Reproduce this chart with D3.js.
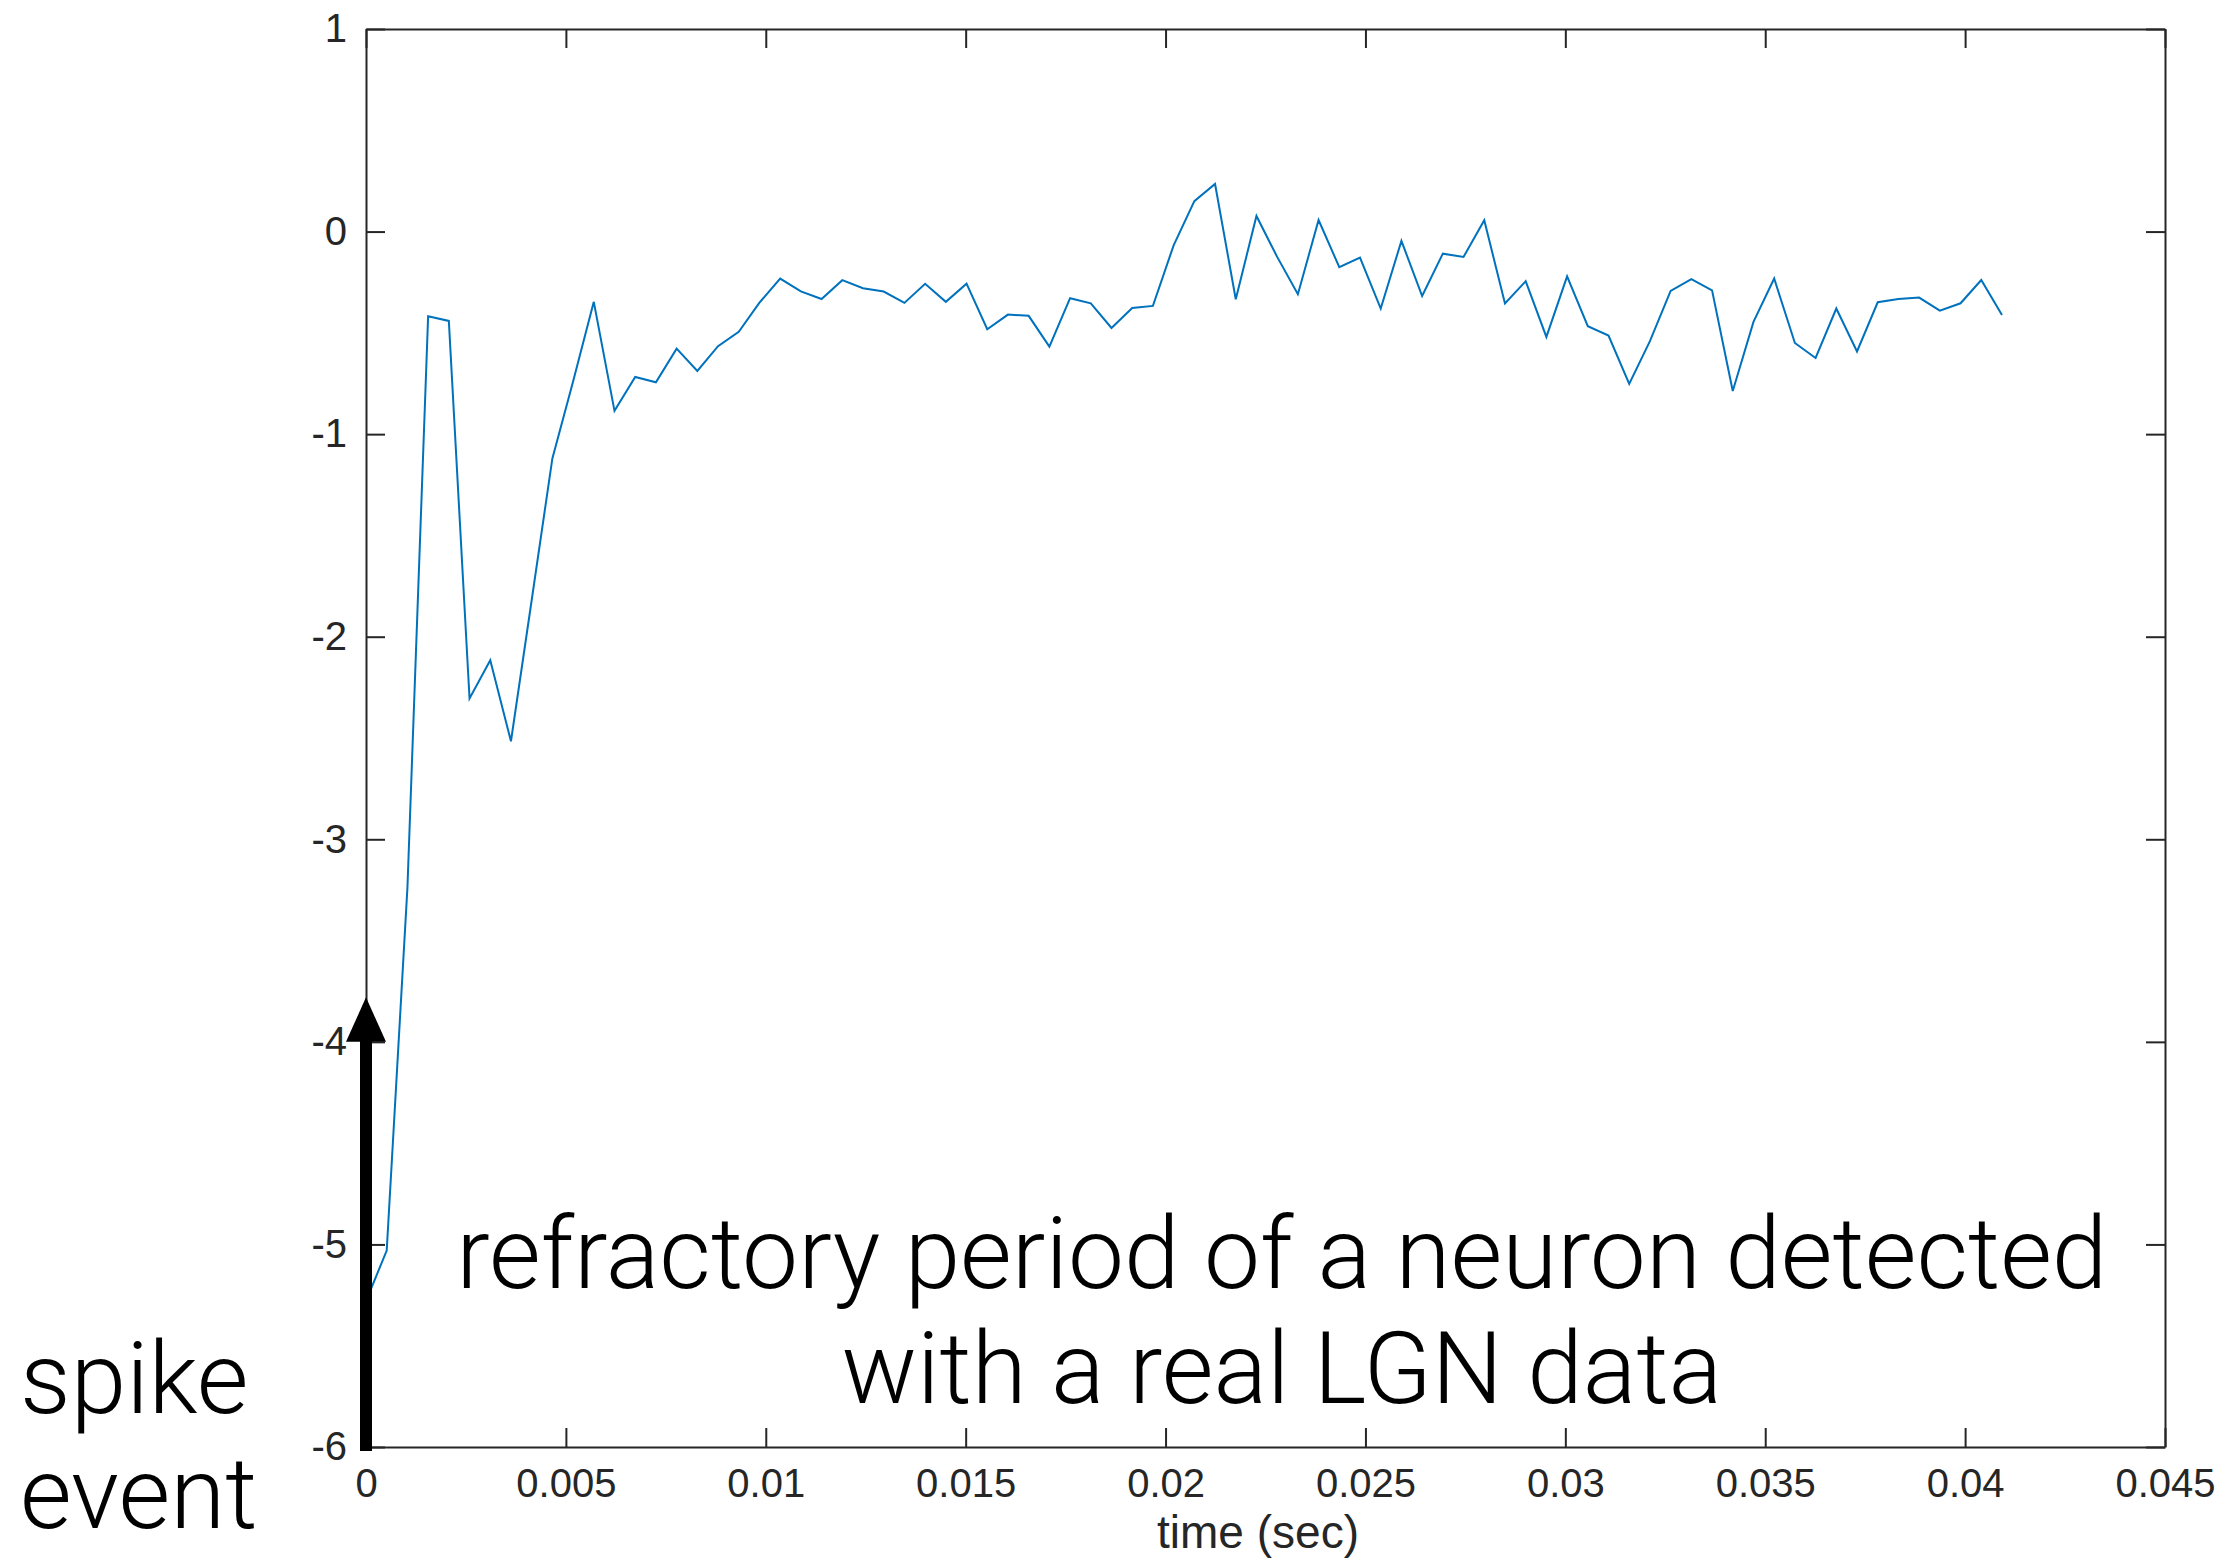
<!DOCTYPE html>
<html>
<head>
<meta charset="utf-8">
<script src="https://cdn.jsdelivr.net/npm/d3@7"></script>
<style>
  html, body { margin: 0; padding: 0; background: #ffffff; }
  svg { display: block; }
</style>
</head>
<body>
<div id="chart"></div>
<script>
// ---- data ----
const timeSec = [0, 0.000518, 0.001036, 0.001554, 0.002072, 0.00259, 0.003108, 0.003626, 0.004144, 0.004662,
  0.00518, 0.005698, 0.006216, 0.006734, 0.007252, 0.00777, 0.008288, 0.008806, 0.009324, 0.009842,
  0.01036, 0.010878, 0.011396, 0.011914, 0.012432, 0.01295, 0.013468, 0.013986, 0.014504, 0.015022,
  0.01554, 0.016058, 0.016576, 0.017094, 0.017612, 0.01813, 0.018648, 0.019166, 0.019684, 0.020202,
  0.02072, 0.021238, 0.021756, 0.022274, 0.022792, 0.02331, 0.023828, 0.024346, 0.024864, 0.025382,
  0.0259, 0.026418, 0.026936, 0.027454, 0.027972, 0.02849, 0.029008, 0.029526, 0.030044, 0.030562,
  0.03108, 0.031598, 0.032116, 0.032634, 0.033152, 0.03367, 0.034188, 0.034706, 0.035224, 0.035742,
  0.03626, 0.036778, 0.037296, 0.037814, 0.038332, 0.03885, 0.039368, 0.039886, 0.040404, 0.040922];

const response = [-5.28, -5.03, -3.24, -0.418, -0.441, -2.305, -2.116, -2.516, -1.82, -1.120,
  -0.74, -0.347, -0.885, -0.718, -0.744, -0.578, -0.688, -0.566, -0.495, -0.351,
  -0.232, -0.295, -0.333, -0.240, -0.280, -0.296, -0.352, -0.258, -0.347, -0.257,
  -0.482, -0.410, -0.416, -0.568, -0.329, -0.354, -0.476, -0.377, -0.367, -0.068,
  0.150, 0.235, -0.334, 0.077, -0.125, -0.309, 0.057, -0.176, -0.128, -0.380,
  -0.046, -0.318, -0.109, -0.125, 0.056, -0.355, -0.245, -0.520, -0.221, -0.467,
  -0.513, -0.752, -0.541, -0.293, -0.235, -0.290, -0.787, -0.446, -0.232, -0.550,
  -0.624, -0.380, -0.592, -0.349, -0.333, -0.326, -0.390, -0.354, -0.239, -0.412];

const xTicks = [0, 0.005, 0.01, 0.015, 0.02, 0.025, 0.03, 0.035, 0.04, 0.045];
const xTickLabels = ["0", "0.005", "0.01", "0.015", "0.02", "0.025", "0.03", "0.035", "0.04", "0.045"];
const yTicks = [-6, -5, -4, -3, -2, -1, 0, 1];
const yTickLabels = ["-6", "-5", "-4", "-3", "-2", "-1", "0", "1"];
const xDomain = [0, 0.045];
const yDomain = [-6, 1];
const xLabel = "time (sec)";
const noteLines = ["refractory period of a neuron detected", "with a real LGN data"];
const sideLines = ["spike", "event"];

// ---- layout ----
const W = 2233, H = 1560;
const plotL = 366, plotR = 2165, plotT = 29, plotB = 1447;
const axisColor = "#262626";

const svg = d3.select("#chart").append("svg")
  .attr("width", W).attr("height", H)
  .attr("viewBox", `0 0 ${W} ${H}`);

const x = d3.scaleLinear().domain(xDomain).range([plotL, plotR]);
const y = d3.scaleLinear().domain(yDomain).range([plotB, plotT]);

const tickLen = 19;
function styleAxis(g) {
  g.select(".domain").attr("stroke", axisColor).attr("stroke-width", 2);
  g.selectAll(".tick line").attr("stroke", axisColor).attr("stroke-width", 2);
  g.selectAll(".tick text").attr("fill", axisColor)
    .style("font-family", "'Liberation Sans', Arial, Helvetica, sans-serif")
    .style("font-size", "40px");
}

// bottom
svg.append("g").attr("transform", `translate(0,${plotB})`)
  .call(d3.axisBottom(x).tickValues(xTicks)
    .tickFormat((d, i) => xTickLabels[i])
    .tickSizeInner(-tickLen).tickSizeOuter(0).tickPadding(22))
  .call(styleAxis);
// top
svg.append("g").attr("transform", `translate(0,${plotT})`)
  .call(d3.axisTop(x).tickValues(xTicks).tickFormat("")
    .tickSizeInner(-tickLen).tickSizeOuter(0))
  .call(styleAxis);
// left
svg.append("g").attr("transform", `translate(${plotL},0)`)
  .call(d3.axisLeft(y).tickValues(yTicks)
    .tickFormat((d, i) => yTickLabels[i])
    .tickSizeInner(-tickLen).tickSizeOuter(0).tickPadding(19))
  .call(styleAxis);
// right
svg.append("g").attr("transform", `translate(${plotR},0)`)
  .call(d3.axisRight(y).tickValues(yTicks).tickFormat("")
    .tickSizeInner(-tickLen).tickSizeOuter(0))
  .call(styleAxis);

// x label
svg.append("text")
  .attr("x", 1258).attr("y", 1548)
  .attr("text-anchor", "middle")
  .attr("fill", axisColor)
  .style("font-family", "'Liberation Sans', Arial, Helvetica, sans-serif")
  .style("font-size", "46px")
  .text(xLabel);

// data line
const pts = timeSec.map((t, i) => [t, response[i]]);
svg.append("path")
  .datum(pts)
  .attr("fill", "none")
  .attr("stroke", "#0072BD")
  .attr("stroke-width", 2)
  .attr("stroke-linejoin", "miter")
  .attr("d", d3.line().x(d => x(d[0])).y(d => y(d[1])));

// spike-event arrow at t = 0
const arrowTip = -3.78, arrowHeadBase = -4.0;
const ax = x(0);
svg.append("rect")
  .attr("x", ax - 6).attr("width", 12)
  .attr("y", y(arrowHeadBase) - 1).attr("height", y(-6) + 4 - y(arrowHeadBase) + 1)
  .attr("fill", "#000");
svg.append("path")
  .attr("d", `M${ax},${y(arrowTip)} L${ax + 20},${y(arrowHeadBase)} L${ax - 20},${y(arrowHeadBase)} Z`)
  .attr("fill", "#000");

// annotation text
const noteFont = "Roboto, 'Open Sans', 'Liberation Sans', sans-serif";
const note = svg.append("text")
  .attr("text-anchor", "middle")
  .attr("fill", "#000")
  .style("font-family", noteFont)
  .style("font-weight", 300)
  .style("font-size", "100px");
note.selectAll("tspan").data(noteLines).join("tspan")
  .attr("x", x(0.02291))
  .attr("y", (d, i) => i === 0 ? y(-5.216) : y(-5.782))
  .text(d => d);

const side = svg.append("text")
  .attr("fill", "#000")
  .style("font-family", noteFont)
  .style("font-weight", 300)
  .style("font-size", "100px");
side.selectAll("tspan").data(sideLines).join("tspan")
  .attr("x", 20)
  .attr("y", (d, i) => i === 0 ? 1413 : 1528)
  .text(d => d);
</script>
</body>
</html>
